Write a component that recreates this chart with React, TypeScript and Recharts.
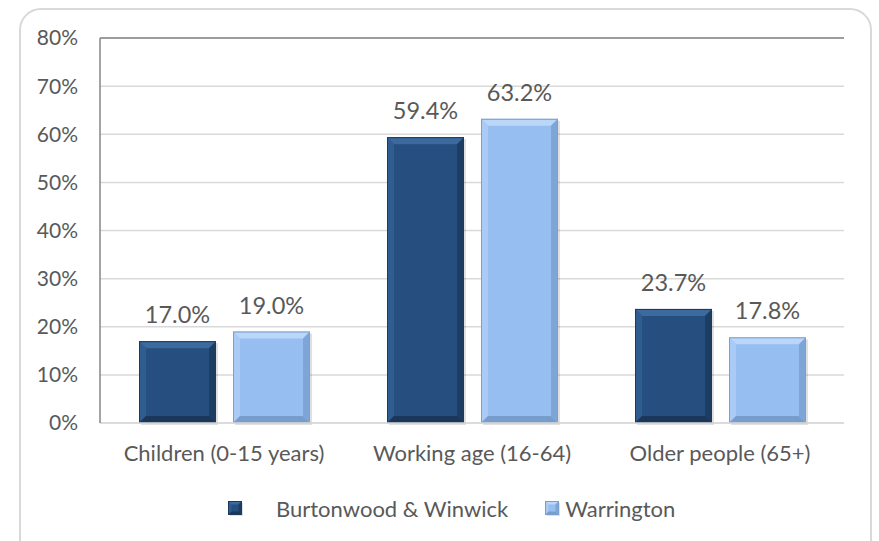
import React from 'react';
import { BarChart, Bar, XAxis, YAxis, CartesianGrid, ReferenceLine, LabelList, Legend } from 'recharts';

const categories = ['Children (0-15 years)', 'Working age (16-64)', 'Older people (65+)'];
const burtonwood = [17.0, 59.4, 23.7];
const warrington = [19.0, 63.2, 17.8];
const yTicks = [0, 10, 20, 30, 40, 50, 60, 70, 80];
const seriesNames = ['Burtonwood & Winwick', 'Warrington'];

const data = categories.map((c, i) => ({ name: c, a: burtonwood[i], b: warrington[i] }));

const FONT = 'Lato, "Open Sans", sans-serif';
const TEXT = '#595959';

type Pal = { base: string; top: string; left: string; right: string; bottom: string; edge: string };
const dark: Pal = { base: '#264e7e', top: '#3c6a9f', left: '#2f5d90', right: '#1d3d63', bottom: '#1a3658', edge: '#1c3a5e' };
const light: Pal = { base: '#96bef0', top: '#bad7fa', left: '#a9cbf5', right: '#7ea5d8', bottom: '#779dcd', edge: '#7b9fcc' };

function Bevel({ x, y, w, h, c, b0 = 7 }: { x: number; y: number; w: number; h: number; c: Pal; b0?: number }) {
  if (!(w > 0) || !(h > 0)) return null;
  const b = Math.min(b0, w / 4, h / 4);
  return (
    <g>
      <rect x={x + 2} y={y + 2} width={w} height={h} fill="rgba(0,0,0,0.12)" />
      <rect x={x} y={y} width={w} height={h} fill={c.base} />
      <polygon points={`${x},${y} ${x + w},${y} ${x + w - b},${y + b} ${x + b},${y + b}`} fill={c.top} />
      <polygon points={`${x},${y} ${x + b},${y + b} ${x + b},${y + h - b} ${x},${y + h}`} fill={c.left} />
      <polygon points={`${x + w},${y} ${x + w},${y + h} ${x + w - b},${y + h - b} ${x + w - b},${y + b}`} fill={c.right} />
      <polygon points={`${x},${y + h} ${x + b},${y + h - b} ${x + w - b},${y + h - b} ${x + w},${y + h}`} fill={c.bottom} />
      <rect x={x + 0.5} y={y + 0.5} width={w - 1} height={h - 1} fill="none" stroke={c.edge} strokeWidth={1} />
    </g>
  );
}

const shapeFor = (c: Pal) => (p: any) => <Bevel x={p.x} y={p.y} w={p.width} h={p.height} c={c} />;

const LegendIcon = ({ c }: { c: Pal }) => (
  <svg width={15} height={15} style={{ display: 'block' }}>
    <Bevel x={0} y={0} w={14} h={14} c={c} b0={4} />
  </svg>
);

const renderLegend = () => (
  <div style={{ display: 'flex', alignItems: 'center', paddingLeft: 228, fontFamily: FONT, fontSize: 22, color: TEXT, height: 22 }}>
    <LegendIcon c={dark} />
    <span style={{ marginLeft: 33 }}>{seriesNames[0]}</span>
    <span style={{ marginLeft: 37 }}><LegendIcon c={light} /></span>
    <span style={{ marginLeft: 5 }}>{seriesNames[1]}</span>
  </div>
);

const fmt = (v: any) => `${Number(v).toFixed(1)}%`;

export default function App() {
  return (
    <div style={{ position: 'absolute', left: 0, top: 0, width: 879, height: 541, overflow: 'hidden', background: '#fff' }}>
      <div style={{ position: 'absolute', left: 19, top: 8, width: 853, height: 600, border: '2px solid #d9d9d9', borderRadius: 22, boxSizing: 'border-box' }} />
      <BarChart width={879} height={541} data={data} margin={{ top: 38, right: 35, left: 0, bottom: 78 }} barSize={77} barGap={17}>
        <CartesianGrid vertical={false} stroke="#d9d9d9" strokeWidth={1.5} />
        <XAxis dataKey="name" height={40} tickLine={false} tickSize={0} tickMargin={22} axisLine={{ stroke: '#d9d9d9', strokeWidth: 1.5 }}
          tick={{ fill: TEXT, fontSize: 22, fontFamily: FONT }} interval={0} />
        <YAxis domain={[0, 80]} ticks={yTicks} width={100} tickLine={false} tickSize={0} tickMargin={22}
          axisLine={{ stroke: '#868686', strokeWidth: 1.5 }} tickFormatter={(v: number) => `${v}%`}
          tick={{ fill: TEXT, fontSize: 21, fontFamily: FONT }} />
        <YAxis yAxisId="r" orientation="right" domain={[0, 80]} width={0} tick={false} tickLine={false}
          axisLine={{ stroke: '#868686', strokeWidth: 1.5 }} />
        <ReferenceLine y={80} stroke="#868686" strokeWidth={1.5} />
        <Legend layout="horizontal" verticalAlign="middle" align="center" content={renderLegend}
          wrapperStyle={{ top: 497, left: 0, width: 879, height: 22 }} />
        <Bar dataKey="a" name={seriesNames[0]} fill={dark.base} shape={shapeFor(dark)} isAnimationActive={false}>
          <LabelList dataKey="a" position="top" offset={18} formatter={fmt}
            style={{ fill: TEXT, fontSize: 23.5, fontFamily: FONT }} />
        </Bar>
        <Bar dataKey="b" name={seriesNames[1]} fill={light.base} shape={shapeFor(light)} isAnimationActive={false}>
          <LabelList dataKey="b" position="top" offset={18} formatter={fmt}
            style={{ fill: TEXT, fontSize: 23.5, fontFamily: FONT }} />
        </Bar>
      </BarChart>
    </div>
  );
}
